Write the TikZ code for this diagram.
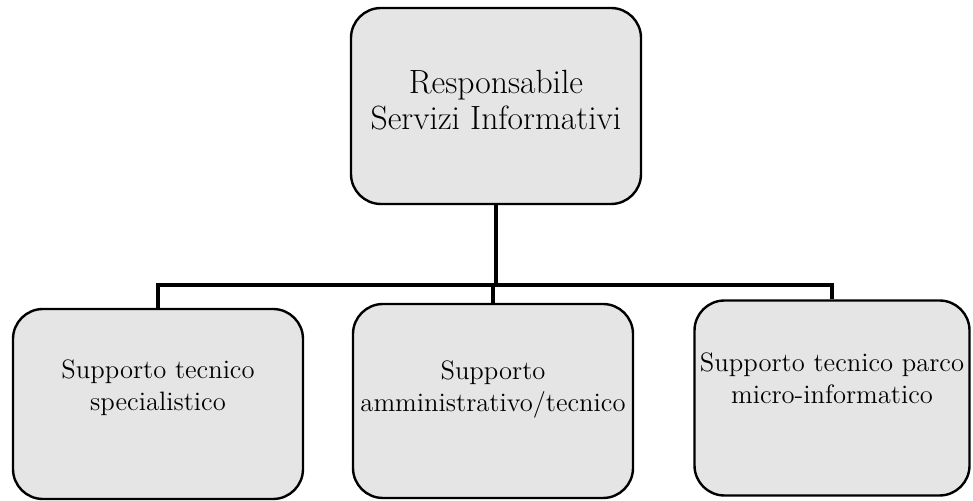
\documentclass[tikz,border=0pt]{standalone}
\usepackage{xcolor}
\usetikzlibrary{calc}

\begin{document}
\begin{tikzpicture}[x=0.5pt, y=-0.5pt,
    box/.style={draw=black, line width=1.2pt, fill=black!10, rounded corners=15pt},
    conn/.style={black, line width=2.2pt},
    lbl/.style={align=center, font=\fontsize{13.3}{16}\selectfont, inner sep=0pt}]
    \useasboundingbox (0,0) rectangle (973,501);
    \node[box, minimum width=145pt, minimum height=98pt] (resp) at (496,106) {};
    \node[lbl, font=\fontsize{16.8}{17.8}\selectfont] (resp-t) at ([yshift=3pt]resp.center) {Responsabile\\Servizi Informativi};
    \node[box, minimum width=145pt, minimum height=95pt] (spec) at (158,404) {};
    \node[lbl] (spec-t) at ([yshift=8pt]spec.center) {Supporto tecnico\\specialistico};
    \node[box, minimum width=140pt, minimum height=97pt] (amm) at (493,401) {};
    \node[lbl] (amm-t) at ([yshift=6pt]amm.center) {Supporto\\amministrativo/tecnico};
    \node[box, minimum width=137.5pt, minimum height=97.5pt] (micro) at (832,398) {};
    \node[lbl] (micro-t) at ([yshift=10pt]micro.center) {Supporto tecnico parco\\micro-informatico};
    \coordinate (bus) at (496,285);
    \draw [conn] (resp.south) -- (bus);
    \draw [conn] (spec.north) |- (bus) -| (micro.north);
    \draw [conn] (bus) -- (bus -| amm.north) -- (amm.north);
\end{tikzpicture}
\end{document}
